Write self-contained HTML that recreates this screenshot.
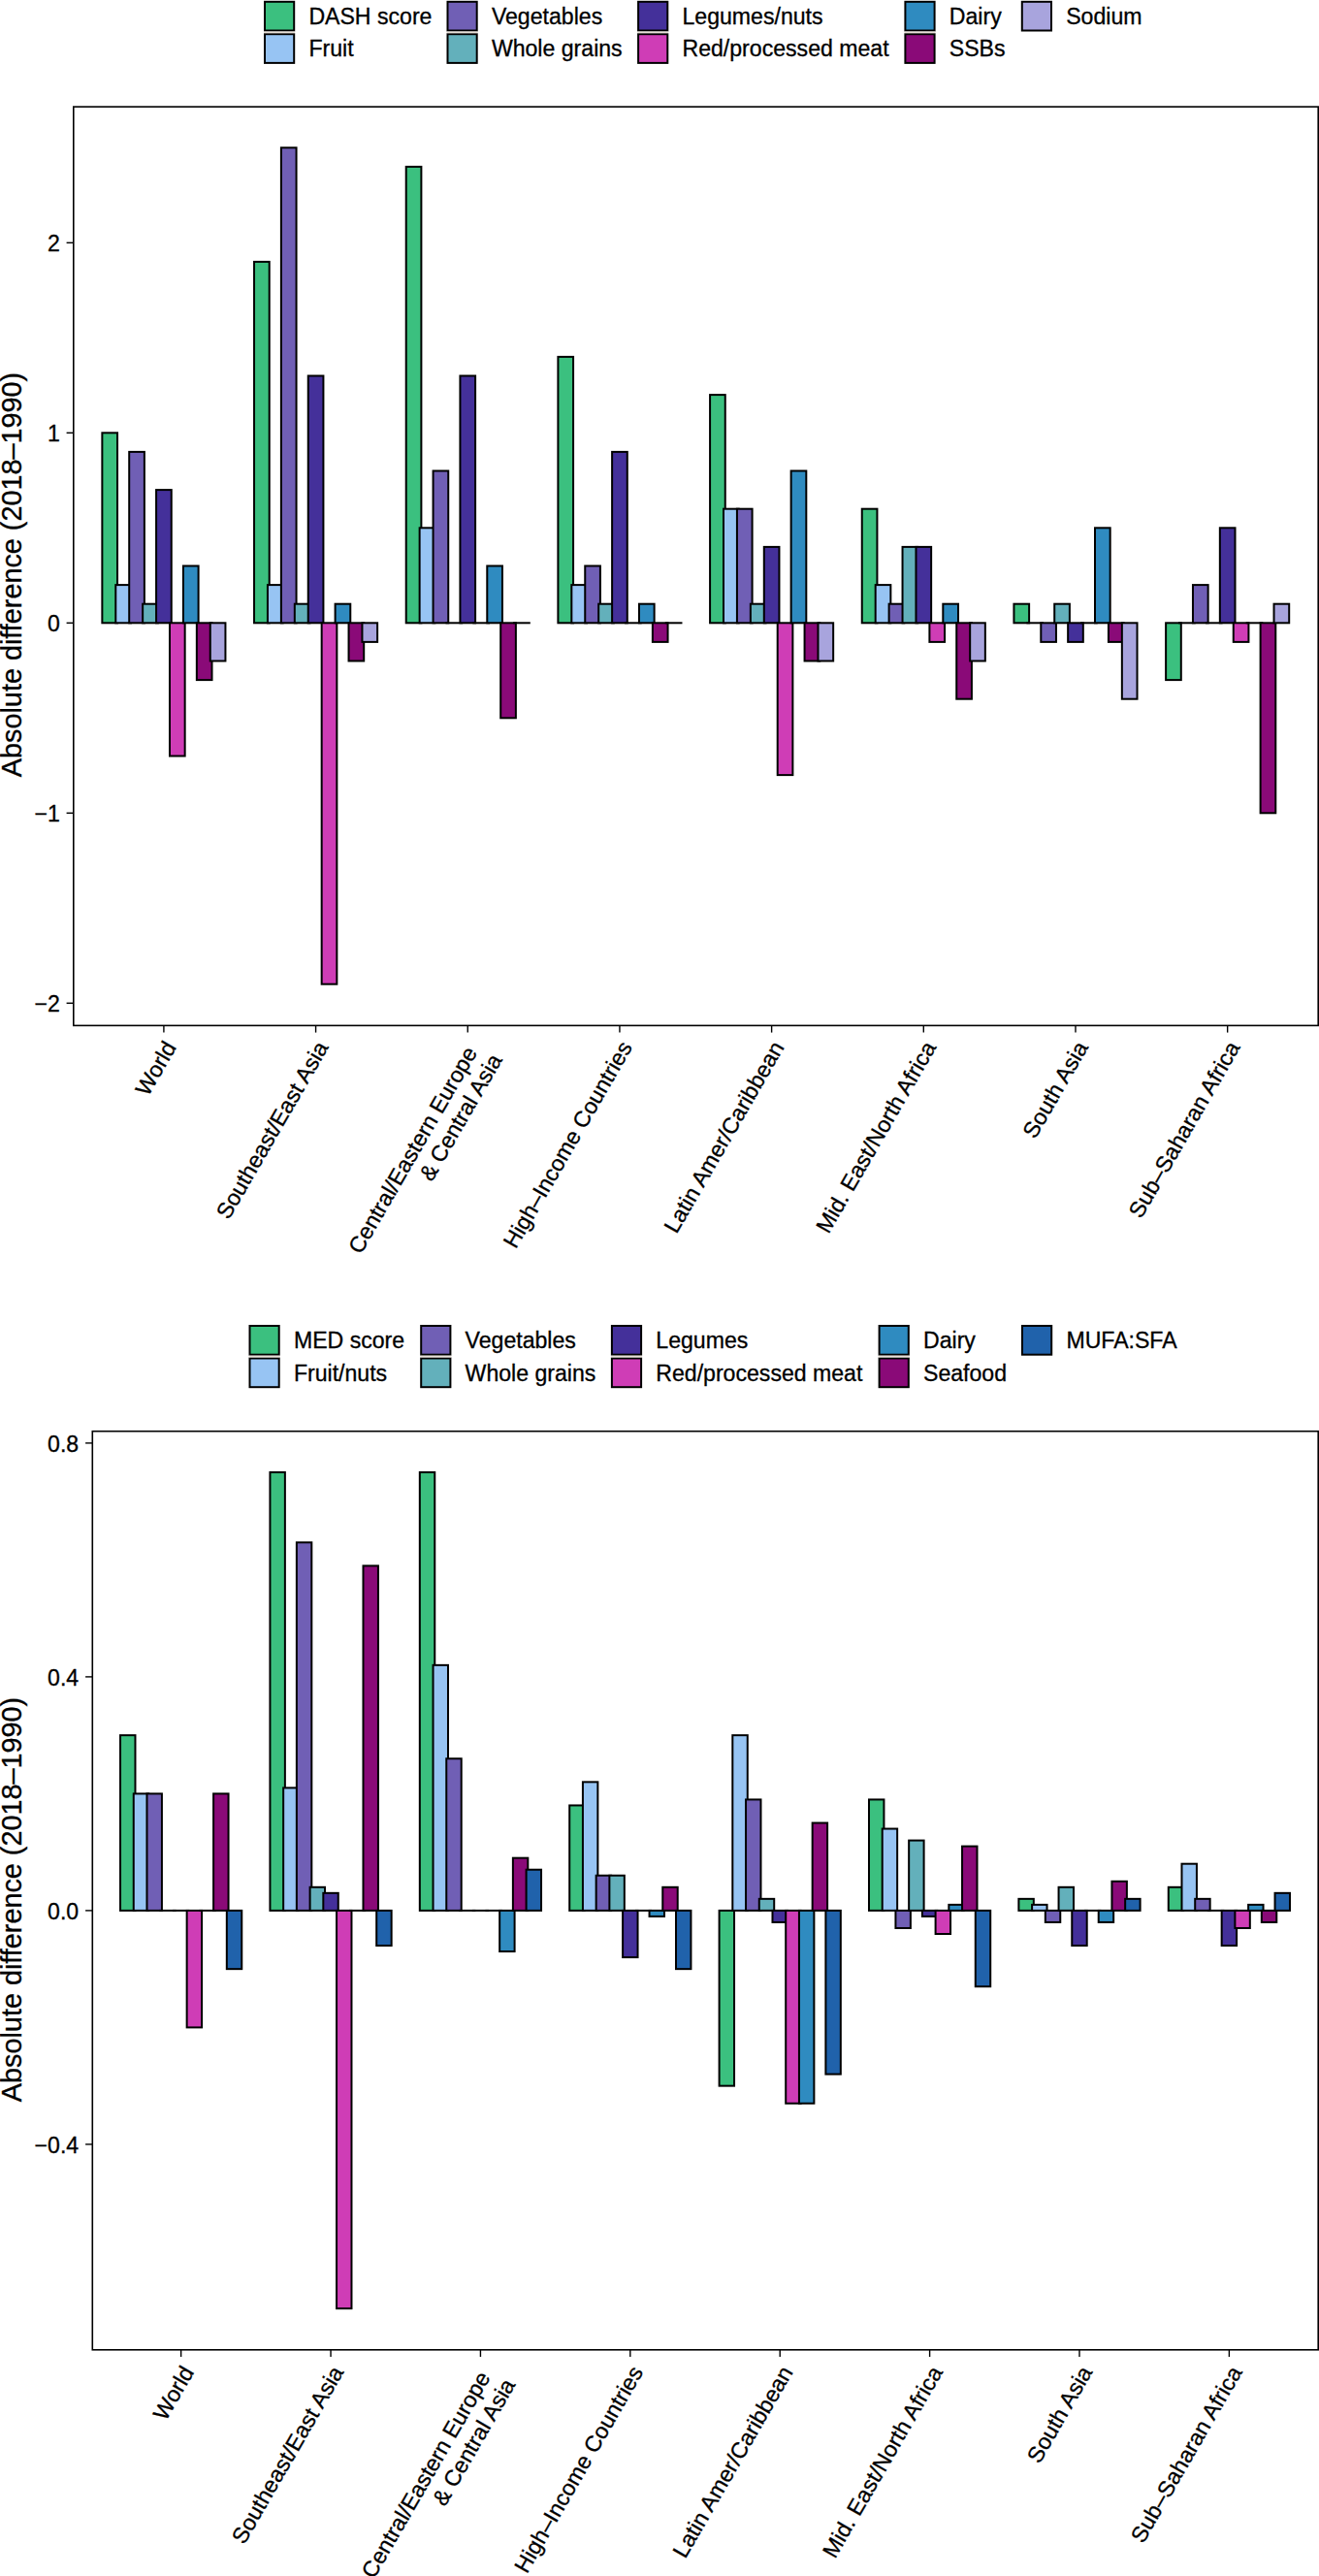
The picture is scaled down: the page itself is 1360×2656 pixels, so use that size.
<!DOCTYPE html><html><head><meta charset="utf-8"><style>html,body{margin:0;padding:0;background:#fff;}body{width:1360px;height:2656px;}svg{display:block;}text{font-family:"Liberation Sans", sans-serif;fill:#000;stroke:#000;stroke-width:0.3px;}</style></head><body>
<svg width="1360" height="2656" viewBox="0 0 1360 2656">
<rect width="1360" height="2656" fill="#fff"/>
<rect x="273.00" y="1.80" width="30.20" height="29.70" fill="#3bc07f" stroke="#000" stroke-width="2.00"/>
<text x="318.40" y="24.90" font-size="23.10">DASH score</text>
<rect x="273.00" y="35.20" width="30.20" height="29.70" fill="#97c4f3" stroke="#000" stroke-width="2.00"/>
<text x="318.40" y="58.20" font-size="23.10">Fruit</text>
<rect x="272.10" y="32.50" width="32.00" height="1.70" fill="#e8e0d8"/>
<rect x="461.50" y="1.80" width="30.20" height="29.70" fill="#705fb5" stroke="#000" stroke-width="2.00"/>
<text x="506.90" y="24.90" font-size="23.10">Vegetables</text>
<rect x="461.50" y="35.20" width="30.20" height="29.70" fill="#63b0bb" stroke="#000" stroke-width="2.00"/>
<text x="506.90" y="58.20" font-size="23.10">Whole grains</text>
<rect x="460.60" y="32.50" width="32.00" height="1.70" fill="#e8e0d8"/>
<rect x="658.10" y="1.80" width="30.20" height="29.70" fill="#44309a" stroke="#000" stroke-width="2.00"/>
<text x="703.50" y="24.90" font-size="23.10">Legumes/nuts</text>
<rect x="658.10" y="35.20" width="30.20" height="29.70" fill="#cf3db6" stroke="#000" stroke-width="2.00"/>
<text x="703.50" y="58.20" font-size="23.10">Red/processed meat</text>
<rect x="657.20" y="32.50" width="32.00" height="1.70" fill="#e8e0d8"/>
<rect x="933.40" y="1.80" width="30.20" height="29.70" fill="#2f8bc0" stroke="#000" stroke-width="2.00"/>
<text x="978.80" y="24.90" font-size="23.10">Dairy</text>
<rect x="933.40" y="35.20" width="30.20" height="29.70" fill="#8a0a78" stroke="#000" stroke-width="2.00"/>
<text x="978.80" y="58.20" font-size="23.10">SSBs</text>
<rect x="932.50" y="32.50" width="32.00" height="1.70" fill="#e8e0d8"/>
<rect x="1053.80" y="1.80" width="30.20" height="29.70" fill="#a8a4dd" stroke="#000" stroke-width="2.00"/>
<text x="1099.20" y="24.90" font-size="23.10">Sodium</text>
<g stroke="#000" stroke-width="2.00" stroke-linejoin="miter">
<rect x="105.36" y="446.30" width="15.67" height="196.00" fill="#3bc07f"/>
<rect x="119.28" y="603.10" width="15.67" height="39.20" fill="#97c4f3"/>
<rect x="133.21" y="465.90" width="15.67" height="176.40" fill="#705fb5"/>
<rect x="147.14" y="622.70" width="15.67" height="19.60" fill="#63b0bb"/>
<rect x="161.07" y="505.10" width="15.67" height="137.20" fill="#44309a"/>
<rect x="174.99" y="642.30" width="15.67" height="137.20" fill="#cf3db6"/>
<rect x="188.92" y="583.50" width="15.67" height="58.80" fill="#2f8bc0"/>
<rect x="202.85" y="642.30" width="15.67" height="58.80" fill="#8a0a78"/>
<rect x="216.77" y="642.30" width="15.67" height="39.20" fill="#a8a4dd"/>
<rect x="262.04" y="269.90" width="15.67" height="372.40" fill="#3bc07f"/>
<rect x="275.96" y="603.10" width="15.67" height="39.20" fill="#97c4f3"/>
<rect x="289.89" y="152.30" width="15.67" height="490.00" fill="#705fb5"/>
<rect x="303.82" y="622.70" width="15.67" height="19.60" fill="#63b0bb"/>
<rect x="317.75" y="387.50" width="15.67" height="254.80" fill="#44309a"/>
<rect x="331.67" y="642.30" width="15.67" height="372.40" fill="#cf3db6"/>
<rect x="345.60" y="622.70" width="15.67" height="19.60" fill="#2f8bc0"/>
<rect x="359.53" y="642.30" width="15.67" height="39.20" fill="#8a0a78"/>
<rect x="373.45" y="642.30" width="15.67" height="19.60" fill="#a8a4dd"/>
<rect x="418.72" y="171.90" width="15.67" height="470.40" fill="#3bc07f"/>
<rect x="432.64" y="544.30" width="15.67" height="98.00" fill="#97c4f3"/>
<rect x="446.57" y="485.50" width="15.67" height="156.80" fill="#705fb5"/>
<path d="M460.50 642.30H476.17" fill="none" stroke-linecap="square"/>
<rect x="474.43" y="387.50" width="15.67" height="254.80" fill="#44309a"/>
<path d="M488.35 642.30H504.02" fill="none" stroke-linecap="square"/>
<rect x="502.28" y="583.50" width="15.67" height="58.80" fill="#2f8bc0"/>
<rect x="516.21" y="642.30" width="15.67" height="98.00" fill="#8a0a78"/>
<path d="M530.13 642.30H545.80" fill="none" stroke-linecap="square"/>
<rect x="575.40" y="367.90" width="15.67" height="274.40" fill="#3bc07f"/>
<rect x="589.32" y="603.10" width="15.67" height="39.20" fill="#97c4f3"/>
<rect x="603.25" y="583.50" width="15.67" height="58.80" fill="#705fb5"/>
<rect x="617.18" y="622.70" width="15.67" height="19.60" fill="#63b0bb"/>
<rect x="631.11" y="465.90" width="15.67" height="176.40" fill="#44309a"/>
<path d="M645.03 642.30H660.70" fill="none" stroke-linecap="square"/>
<rect x="658.96" y="622.70" width="15.67" height="19.60" fill="#2f8bc0"/>
<rect x="672.89" y="642.30" width="15.67" height="19.60" fill="#8a0a78"/>
<path d="M686.81 642.30H702.48" fill="none" stroke-linecap="square"/>
<rect x="732.08" y="407.10" width="15.67" height="235.20" fill="#3bc07f"/>
<rect x="746.00" y="524.70" width="15.67" height="117.60" fill="#97c4f3"/>
<rect x="759.93" y="524.70" width="15.67" height="117.60" fill="#705fb5"/>
<rect x="773.86" y="622.70" width="15.67" height="19.60" fill="#63b0bb"/>
<rect x="787.79" y="563.90" width="15.67" height="78.40" fill="#44309a"/>
<rect x="801.71" y="642.30" width="15.67" height="156.80" fill="#cf3db6"/>
<rect x="815.64" y="485.50" width="15.67" height="156.80" fill="#2f8bc0"/>
<rect x="829.57" y="642.30" width="15.67" height="39.20" fill="#8a0a78"/>
<rect x="843.49" y="642.30" width="15.67" height="39.20" fill="#a8a4dd"/>
<rect x="888.76" y="524.70" width="15.67" height="117.60" fill="#3bc07f"/>
<rect x="902.68" y="603.10" width="15.67" height="39.20" fill="#97c4f3"/>
<rect x="916.61" y="622.70" width="15.67" height="19.60" fill="#705fb5"/>
<rect x="930.54" y="563.90" width="15.67" height="78.40" fill="#63b0bb"/>
<rect x="944.47" y="563.90" width="15.67" height="78.40" fill="#44309a"/>
<rect x="958.39" y="642.30" width="15.67" height="19.60" fill="#cf3db6"/>
<rect x="972.32" y="622.70" width="15.67" height="19.60" fill="#2f8bc0"/>
<rect x="986.25" y="642.30" width="15.67" height="78.40" fill="#8a0a78"/>
<rect x="1000.17" y="642.30" width="15.67" height="39.20" fill="#a8a4dd"/>
<rect x="1045.44" y="622.70" width="15.67" height="19.60" fill="#3bc07f"/>
<path d="M1059.36 642.30H1075.03" fill="none" stroke-linecap="square"/>
<rect x="1073.29" y="642.30" width="15.67" height="19.60" fill="#705fb5"/>
<rect x="1087.22" y="622.70" width="15.67" height="19.60" fill="#63b0bb"/>
<rect x="1101.15" y="642.30" width="15.67" height="19.60" fill="#44309a"/>
<path d="M1115.07 642.30H1130.74" fill="none" stroke-linecap="square"/>
<rect x="1129.00" y="544.30" width="15.67" height="98.00" fill="#2f8bc0"/>
<rect x="1142.93" y="642.30" width="15.67" height="19.60" fill="#8a0a78"/>
<rect x="1156.85" y="642.30" width="15.67" height="78.40" fill="#a8a4dd"/>
<rect x="1202.12" y="642.30" width="15.67" height="58.80" fill="#3bc07f"/>
<path d="M1216.04 642.30H1231.71" fill="none" stroke-linecap="square"/>
<rect x="1229.97" y="603.10" width="15.67" height="39.20" fill="#705fb5"/>
<path d="M1243.90 642.30H1259.57" fill="none" stroke-linecap="square"/>
<rect x="1257.83" y="544.30" width="15.67" height="98.00" fill="#44309a"/>
<rect x="1271.75" y="642.30" width="15.67" height="19.60" fill="#cf3db6"/>
<path d="M1285.68 642.30H1301.35" fill="none" stroke-linecap="square"/>
<rect x="1299.61" y="642.30" width="15.67" height="196.00" fill="#8a0a78"/>
<rect x="1313.53" y="622.70" width="15.67" height="19.60" fill="#a8a4dd"/>
</g>
<rect x="75.80" y="110.10" width="1283.40" height="947.30" fill="none" stroke="#000" stroke-width="1.60"/>
<line x1="68.60" y1="250.30" x2="75.80" y2="250.30" stroke="#000" stroke-width="1.4"/>
<text x="61.90" y="259.00" text-anchor="end" font-size="23.10">2</text>
<line x1="68.60" y1="446.30" x2="75.80" y2="446.30" stroke="#000" stroke-width="1.4"/>
<text x="61.90" y="455.00" text-anchor="end" font-size="23.10">1</text>
<line x1="68.60" y1="642.30" x2="75.80" y2="642.30" stroke="#000" stroke-width="1.4"/>
<text x="61.90" y="651.00" text-anchor="end" font-size="23.10">0</text>
<line x1="68.60" y1="838.30" x2="75.80" y2="838.30" stroke="#000" stroke-width="1.4"/>
<text x="61.90" y="847.00" text-anchor="end" font-size="23.10">−1</text>
<line x1="68.60" y1="1034.30" x2="75.80" y2="1034.30" stroke="#000" stroke-width="1.4"/>
<text x="61.90" y="1043.00" text-anchor="end" font-size="23.10">−2</text>
<line x1="168.90" y1="1057.40" x2="168.90" y2="1064.60" stroke="#000" stroke-width="1.4"/>
<text transform="translate(182.49 1079.60) rotate(-60)" text-anchor="end" font-size="23.10">World</text>
<line x1="325.58" y1="1057.40" x2="325.58" y2="1064.60" stroke="#000" stroke-width="1.4"/>
<text transform="translate(339.17 1079.60) rotate(-60)" text-anchor="end" font-size="23.10">Southeast/East Asia</text>
<line x1="482.26" y1="1057.40" x2="482.26" y2="1064.60" stroke="#000" stroke-width="1.4"/>
<text transform="translate(492.65 1085.14) rotate(-60)" text-anchor="end" font-size="23.10">Central/Eastern Europe</text>
<text transform="translate(518.37 1092.60) rotate(-60)" text-anchor="end" font-size="23.10">&amp; Central Asia</text>
<line x1="638.94" y1="1057.40" x2="638.94" y2="1064.60" stroke="#000" stroke-width="1.4"/>
<text transform="translate(652.53 1079.60) rotate(-60)" text-anchor="end" font-size="23.10">High–Income Countries</text>
<line x1="795.62" y1="1057.40" x2="795.62" y2="1064.60" stroke="#000" stroke-width="1.4"/>
<text transform="translate(809.21 1079.60) rotate(-60)" text-anchor="end" font-size="23.10">Latin Amer/Caribbean</text>
<line x1="952.30" y1="1057.40" x2="952.30" y2="1064.60" stroke="#000" stroke-width="1.4"/>
<text transform="translate(965.89 1079.60) rotate(-60)" text-anchor="end" font-size="23.10">Mid. East/North Africa</text>
<line x1="1108.98" y1="1057.40" x2="1108.98" y2="1064.60" stroke="#000" stroke-width="1.4"/>
<text transform="translate(1122.57 1079.60) rotate(-60)" text-anchor="end" font-size="23.10">South Asia</text>
<line x1="1265.66" y1="1057.40" x2="1265.66" y2="1064.60" stroke="#000" stroke-width="1.4"/>
<text transform="translate(1279.25 1079.60) rotate(-60)" text-anchor="end" font-size="23.10">Sub–Saharan Africa</text>
<text transform="translate(21.70 592.50) rotate(-90)" text-anchor="middle" font-size="28.80">Absolute difference (2018–1990)</text>
<rect x="257.50" y="1367.00" width="30.20" height="29.70" fill="#3bc07f" stroke="#000" stroke-width="2.00"/>
<text x="302.90" y="1390.10" font-size="23.10">MED score</text>
<rect x="257.50" y="1400.50" width="30.20" height="29.70" fill="#97c4f3" stroke="#000" stroke-width="2.00"/>
<text x="302.90" y="1423.60" font-size="23.10">Fruit/nuts</text>
<rect x="256.60" y="1397.70" width="32.00" height="1.80" fill="#e8e0d8"/>
<rect x="434.20" y="1367.00" width="30.20" height="29.70" fill="#705fb5" stroke="#000" stroke-width="2.00"/>
<text x="479.60" y="1390.10" font-size="23.10">Vegetables</text>
<rect x="434.20" y="1400.50" width="30.20" height="29.70" fill="#63b0bb" stroke="#000" stroke-width="2.00"/>
<text x="479.60" y="1423.60" font-size="23.10">Whole grains</text>
<rect x="433.30" y="1397.70" width="32.00" height="1.80" fill="#e8e0d8"/>
<rect x="630.90" y="1367.00" width="30.20" height="29.70" fill="#44309a" stroke="#000" stroke-width="2.00"/>
<text x="676.30" y="1390.10" font-size="23.10">Legumes</text>
<rect x="630.90" y="1400.50" width="30.20" height="29.70" fill="#cf3db6" stroke="#000" stroke-width="2.00"/>
<text x="676.30" y="1423.60" font-size="23.10">Red/processed meat</text>
<rect x="630.00" y="1397.70" width="32.00" height="1.80" fill="#e8e0d8"/>
<rect x="906.60" y="1367.00" width="30.20" height="29.70" fill="#2f8bc0" stroke="#000" stroke-width="2.00"/>
<text x="952.00" y="1390.10" font-size="23.10">Dairy</text>
<rect x="906.60" y="1400.50" width="30.20" height="29.70" fill="#8a0a78" stroke="#000" stroke-width="2.00"/>
<text x="952.00" y="1423.60" font-size="23.10">Seafood</text>
<rect x="905.70" y="1397.70" width="32.00" height="1.80" fill="#e8e0d8"/>
<rect x="1054.00" y="1367.00" width="30.20" height="29.70" fill="#2062ab" stroke="#000" stroke-width="2.00"/>
<text x="1099.40" y="1390.10" font-size="23.10">MUFA:SFA</text>
<g stroke="#000" stroke-width="2.00" stroke-linejoin="miter">
<rect x="124.04" y="1789.15" width="15.44" height="180.75" fill="#3bc07f"/>
<rect x="137.76" y="1849.40" width="15.44" height="120.50" fill="#97c4f3"/>
<rect x="151.48" y="1849.40" width="15.44" height="120.50" fill="#705fb5"/>
<path d="M165.21 1969.90H180.65" fill="none" stroke-linecap="square"/>
<path d="M178.93 1969.90H194.37" fill="none" stroke-linecap="square"/>
<rect x="192.65" y="1969.90" width="15.44" height="120.50" fill="#cf3db6"/>
<path d="M206.38 1969.90H221.82" fill="none" stroke-linecap="square"/>
<rect x="220.10" y="1849.40" width="15.44" height="120.50" fill="#8a0a78"/>
<rect x="233.82" y="1969.90" width="15.44" height="60.25" fill="#2062ab"/>
<rect x="278.43" y="1518.03" width="15.44" height="451.88" fill="#3bc07f"/>
<rect x="292.15" y="1843.38" width="15.44" height="126.53" fill="#97c4f3"/>
<rect x="305.87" y="1590.33" width="15.44" height="379.58" fill="#705fb5"/>
<rect x="319.60" y="1945.80" width="15.44" height="24.10" fill="#63b0bb"/>
<rect x="333.32" y="1951.83" width="15.44" height="18.08" fill="#44309a"/>
<rect x="347.04" y="1969.90" width="15.44" height="410.30" fill="#cf3db6"/>
<path d="M360.77 1969.90H376.21" fill="none" stroke-linecap="square"/>
<rect x="374.49" y="1614.43" width="15.44" height="355.47" fill="#8a0a78"/>
<rect x="388.21" y="1969.90" width="15.44" height="36.15" fill="#2062ab"/>
<rect x="432.82" y="1518.03" width="15.44" height="451.88" fill="#3bc07f"/>
<rect x="446.54" y="1716.85" width="15.44" height="253.05" fill="#97c4f3"/>
<rect x="460.26" y="1813.25" width="15.44" height="156.65" fill="#705fb5"/>
<path d="M473.99 1969.90H489.43" fill="none" stroke-linecap="square"/>
<path d="M487.71 1969.90H503.15" fill="none" stroke-linecap="square"/>
<path d="M501.43 1969.90H516.87" fill="none" stroke-linecap="square"/>
<rect x="515.16" y="1969.90" width="15.44" height="42.17" fill="#2f8bc0"/>
<rect x="528.88" y="1915.68" width="15.44" height="54.22" fill="#8a0a78"/>
<rect x="542.60" y="1927.73" width="15.44" height="42.17" fill="#2062ab"/>
<rect x="587.21" y="1861.45" width="15.44" height="108.45" fill="#3bc07f"/>
<rect x="600.93" y="1837.35" width="15.44" height="132.55" fill="#97c4f3"/>
<rect x="614.65" y="1933.75" width="15.44" height="36.15" fill="#705fb5"/>
<rect x="628.38" y="1933.75" width="15.44" height="36.15" fill="#63b0bb"/>
<rect x="642.10" y="1969.90" width="15.44" height="48.20" fill="#44309a"/>
<path d="M655.82 1969.90H671.26" fill="none" stroke-linecap="square"/>
<rect x="669.55" y="1969.90" width="15.44" height="6.03" fill="#2f8bc0"/>
<rect x="683.27" y="1945.80" width="15.44" height="24.10" fill="#8a0a78"/>
<rect x="696.99" y="1969.90" width="15.44" height="60.25" fill="#2062ab"/>
<rect x="741.60" y="1969.90" width="15.44" height="180.75" fill="#3bc07f"/>
<rect x="755.32" y="1789.15" width="15.44" height="180.75" fill="#97c4f3"/>
<rect x="769.04" y="1855.43" width="15.44" height="114.47" fill="#705fb5"/>
<rect x="782.77" y="1957.85" width="15.44" height="12.05" fill="#63b0bb"/>
<rect x="796.49" y="1969.90" width="15.44" height="12.05" fill="#44309a"/>
<rect x="810.21" y="1969.90" width="15.44" height="198.82" fill="#cf3db6"/>
<rect x="823.94" y="1969.90" width="15.44" height="198.82" fill="#2f8bc0"/>
<rect x="837.66" y="1879.53" width="15.44" height="90.38" fill="#8a0a78"/>
<rect x="851.38" y="1969.90" width="15.44" height="168.70" fill="#2062ab"/>
<rect x="895.99" y="1855.43" width="15.44" height="114.47" fill="#3bc07f"/>
<rect x="909.71" y="1885.55" width="15.44" height="84.35" fill="#97c4f3"/>
<rect x="923.43" y="1969.90" width="15.44" height="18.08" fill="#705fb5"/>
<rect x="937.16" y="1897.60" width="15.44" height="72.30" fill="#63b0bb"/>
<rect x="950.88" y="1969.90" width="15.44" height="6.03" fill="#44309a"/>
<rect x="964.60" y="1969.90" width="15.44" height="24.10" fill="#cf3db6"/>
<rect x="978.33" y="1963.88" width="15.44" height="6.03" fill="#2f8bc0"/>
<rect x="992.05" y="1903.62" width="15.44" height="66.28" fill="#8a0a78"/>
<rect x="1005.77" y="1969.90" width="15.44" height="78.32" fill="#2062ab"/>
<rect x="1050.38" y="1957.85" width="15.44" height="12.05" fill="#3bc07f"/>
<rect x="1064.10" y="1963.88" width="15.44" height="6.03" fill="#97c4f3"/>
<rect x="1077.82" y="1969.90" width="15.44" height="12.05" fill="#705fb5"/>
<rect x="1091.55" y="1945.80" width="15.44" height="24.10" fill="#63b0bb"/>
<rect x="1105.27" y="1969.90" width="15.44" height="36.15" fill="#44309a"/>
<path d="M1118.99 1969.90H1134.43" fill="none" stroke-linecap="square"/>
<rect x="1132.72" y="1969.90" width="15.44" height="12.05" fill="#2f8bc0"/>
<rect x="1146.44" y="1939.78" width="15.44" height="30.12" fill="#8a0a78"/>
<rect x="1160.16" y="1957.85" width="15.44" height="12.05" fill="#2062ab"/>
<rect x="1204.77" y="1945.80" width="15.44" height="24.10" fill="#3bc07f"/>
<rect x="1218.49" y="1921.70" width="15.44" height="48.20" fill="#97c4f3"/>
<rect x="1232.21" y="1957.85" width="15.44" height="12.05" fill="#705fb5"/>
<path d="M1245.94 1969.90H1261.38" fill="none" stroke-linecap="square"/>
<rect x="1259.66" y="1969.90" width="15.44" height="36.15" fill="#44309a"/>
<rect x="1273.38" y="1969.90" width="15.44" height="18.08" fill="#cf3db6"/>
<rect x="1287.11" y="1963.88" width="15.44" height="6.03" fill="#2f8bc0"/>
<rect x="1300.83" y="1969.90" width="15.44" height="12.05" fill="#8a0a78"/>
<rect x="1314.55" y="1951.83" width="15.44" height="18.08" fill="#2062ab"/>
</g>
<rect x="95.30" y="1475.70" width="1263.90" height="947.10" fill="none" stroke="#000" stroke-width="1.60"/>
<line x1="88.10" y1="1487.90" x2="95.30" y2="1487.90" stroke="#000" stroke-width="1.4"/>
<text x="81.20" y="1496.80" text-anchor="end" font-size="23.10">0.8</text>
<line x1="88.10" y1="1728.90" x2="95.30" y2="1728.90" stroke="#000" stroke-width="1.4"/>
<text x="81.20" y="1737.80" text-anchor="end" font-size="23.10">0.4</text>
<line x1="88.10" y1="1969.90" x2="95.30" y2="1969.90" stroke="#000" stroke-width="1.4"/>
<text x="81.20" y="1978.80" text-anchor="end" font-size="23.10">0.0</text>
<line x1="88.10" y1="2210.90" x2="95.30" y2="2210.90" stroke="#000" stroke-width="1.4"/>
<text x="81.20" y="2219.80" text-anchor="end" font-size="23.10">−0.4</text>
<line x1="186.65" y1="2422.80" x2="186.65" y2="2430.00" stroke="#000" stroke-width="1.4"/>
<text transform="translate(200.64 2445.50) rotate(-60)" text-anchor="end" font-size="23.10">World</text>
<line x1="341.04" y1="2422.80" x2="341.04" y2="2430.00" stroke="#000" stroke-width="1.4"/>
<text transform="translate(355.03 2445.50) rotate(-60)" text-anchor="end" font-size="23.10">Southeast/East Asia</text>
<line x1="495.43" y1="2422.80" x2="495.43" y2="2430.00" stroke="#000" stroke-width="1.4"/>
<text transform="translate(506.22 2451.04) rotate(-60)" text-anchor="end" font-size="23.10">Central/Eastern Europe</text>
<text transform="translate(531.94 2458.50) rotate(-60)" text-anchor="end" font-size="23.10">&amp; Central Asia</text>
<line x1="649.82" y1="2422.80" x2="649.82" y2="2430.00" stroke="#000" stroke-width="1.4"/>
<text transform="translate(663.81 2445.50) rotate(-60)" text-anchor="end" font-size="23.10">High–Income Countries</text>
<line x1="804.21" y1="2422.80" x2="804.21" y2="2430.00" stroke="#000" stroke-width="1.4"/>
<text transform="translate(818.20 2445.50) rotate(-60)" text-anchor="end" font-size="23.10">Latin Amer/Caribbean</text>
<line x1="958.60" y1="2422.80" x2="958.60" y2="2430.00" stroke="#000" stroke-width="1.4"/>
<text transform="translate(972.59 2445.50) rotate(-60)" text-anchor="end" font-size="23.10">Mid. East/North Africa</text>
<line x1="1112.99" y1="2422.80" x2="1112.99" y2="2430.00" stroke="#000" stroke-width="1.4"/>
<text transform="translate(1126.98 2445.50) rotate(-60)" text-anchor="end" font-size="23.10">South Asia</text>
<line x1="1267.38" y1="2422.80" x2="1267.38" y2="2430.00" stroke="#000" stroke-width="1.4"/>
<text transform="translate(1281.37 2445.50) rotate(-60)" text-anchor="end" font-size="23.10">Sub–Saharan Africa</text>
<text transform="translate(21.70 1958.50) rotate(-90)" text-anchor="middle" font-size="28.80">Absolute difference (2018–1990)</text>
</svg></body></html>
